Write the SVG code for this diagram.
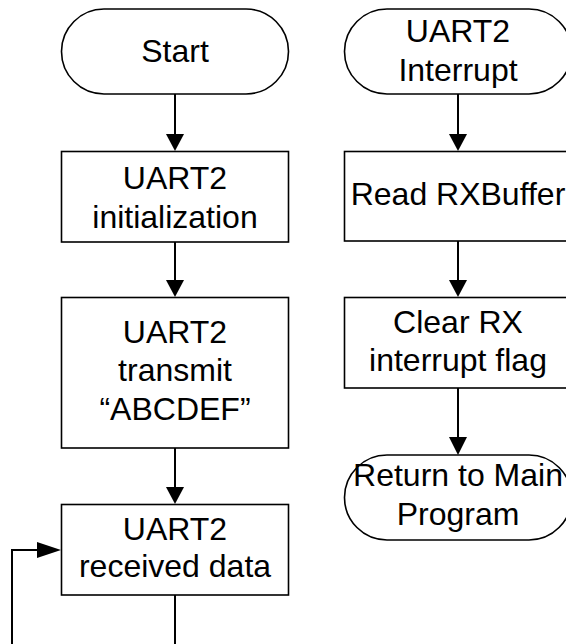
<svg xmlns="http://www.w3.org/2000/svg" width="566" height="644" viewBox="0 0 566 644">
  <defs>
    <style>
      .shape { fill: #ffffff; stroke: #000000; stroke-width: 1.6; }
      .wire { fill: none; stroke: #000000; stroke-width: 2; }
      .head { fill: #000000; stroke: none; }
      .label { font-family: "Liberation Sans", Arial, sans-serif; font-size: 32px; fill: #000000; text-anchor: middle; }
    </style>
  </defs>
  <rect width="566" height="644" fill="#ffffff"/>

  <!-- connectors -->
  <g id="connectors">
    <!-- main flow -->
    <line class="wire" x1="175" y1="94" x2="175" y2="135"/>
    <polygon class="head" points="166,134 184,134 175,151"/>
    <line class="wire" x1="175" y1="242" x2="175" y2="281"/>
    <polygon class="head" points="166,280 184,280 175,297"/>
    <line class="wire" x1="175" y1="448" x2="175" y2="488"/>
    <polygon class="head" points="166,487 184,487 175,504"/>
    <!-- receive loop -->
    <polyline class="wire" points="175,595 175,644"/>
    <polyline class="wire" points="12,644 12,550 38,550"/>
    <polygon class="head" points="37,542 37,558 61,550"/>
    <!-- interrupt handler -->
    <line class="wire" x1="458" y1="94" x2="458" y2="135"/>
    <polygon class="head" points="449,134 467,134 458,151"/>
    <line class="wire" x1="458" y1="241" x2="458" y2="281"/>
    <polygon class="head" points="449,280 467,280 458,297"/>
    <line class="wire" x1="458" y1="388" x2="458" y2="438"/>
    <polygon class="head" points="449,437 467,437 458,455"/>
  </g>

  <g id="start">
    <rect class="shape" x="61.5" y="9" width="227" height="85" rx="42.5" ry="42.5"/>
    <text class="label" x="175" y="62">Start</text>
  </g>

  <g id="init">
    <rect class="shape" x="61.5" y="151.5" width="227" height="90.5"/>
    <text class="label" x="175" y="189">UART2</text>
    <text class="label" x="175" y="228">initialization</text>
  </g>

  <g id="transmit">
    <rect class="shape" x="61.5" y="297.5" width="227" height="150.5"/>
    <text class="label" x="175" y="343">UART2</text>
    <text class="label" x="175" y="381">transmit</text>
    <text class="label" x="175" y="420">“ABCDEF”</text>
  </g>

  <g id="receive">
    <rect class="shape" x="61.5" y="504.5" width="227" height="90.5"/>
    <text class="label" x="175" y="540">UART2</text>
    <text class="label" x="175" y="577">received data</text>
  </g>

  <g id="uart-irq">
    <rect class="shape" x="344.5" y="9" width="227" height="85" rx="42.5" ry="42.5"/>
    <text class="label" x="458" y="42">UART2</text>
    <text class="label" x="458" y="81">Interrupt</text>
  </g>

  <g id="read-buffer">
    <rect class="shape" x="344.5" y="151.5" width="227" height="89.5"/>
    <text class="label" x="458" y="205">Read RXBuffer</text>
  </g>

  <g id="clear-flag">
    <rect class="shape" x="344.5" y="297.5" width="227" height="90.5"/>
    <text class="label" x="458" y="333">Clear RX</text>
    <text class="label" x="458" y="371">interrupt flag</text>
  </g>

  <g id="return">
    <rect class="shape" x="344.5" y="455" width="227" height="85" rx="42.5" ry="42.5"/>
    <text class="label" x="458" y="486">Return to Main</text>
    <text class="label" x="458" y="525">Program</text>
  </g>
</svg>
